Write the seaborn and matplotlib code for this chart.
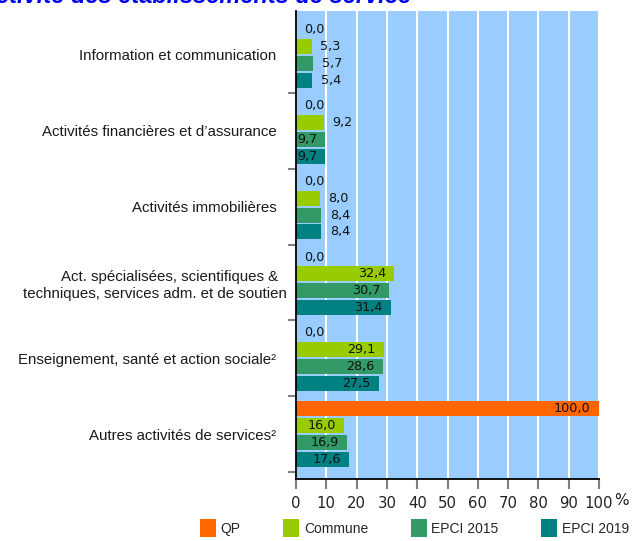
import numpy as np
import pandas as pd
import matplotlib
matplotlib.use("Agg")
import matplotlib.pyplot as plt
import seaborn as sns
from matplotlib.transforms import ScaledTranslation
from matplotlib.ticker import FixedLocator

categories = [
    "Information et communication",
    "Activités financières et d’assurance",
    "Activités immobilières",
    "Act. spécialisées, scientifiques &  \ntechniques, services adm. et de soutien",
    "Enseignement, santé et action sociale²",
    "Autres activités de services²",
]
series = ["QP", "Commune", "EPCI 2015", "EPCI 2019"]
qp = [0.0, 0.0, 0.0, 0.0, 0.0, 100.0]
commune = [5.3, 9.2, 8.0, 32.4, 29.1, 16.0]
epci2015 = [5.7, 9.7, 8.4, 30.7, 28.6, 16.9]
epci2019 = [5.4, 9.7, 8.4, 31.4, 27.5, 17.6]
xticks = [0, 10, 20, 30, 40, 50, 60, 70, 80, 90, 100]
colors = ["#FF6600", "#99CC00", "#339966", "#008080"]
title = "Activité des établissements de service"

values = [qp, commune, epci2015, epci2019]
rows = []
for s, vals in zip(series, values):
    for c, v in zip(categories, vals):
        rows.append({"cat": c, "series": s, "value": v})
df = pd.DataFrame(rows)

sns.set_style("white")
plt.rcParams["font.family"] = ["Liberation Sans", "DejaVu Sans"]

W, H = 643, 541
fig = plt.figure(figsize=(W / 100, H / 100), dpi=100)
ax = fig.add_axes([296 / W, 1 - 479 / H, 303 / W, 468 / H])
ax.set_facecolor("#99CCFF")

sns.barplot(data=df, y="cat", x="value", hue="series", order=categories,
            hue_order=series, palette=dict(zip(series, colors)), orient="h",
            width=0.89, gap=0.11, errorbar=None, ax=ax, linewidth=0,
            saturation=1, zorder=3)

ax.set_xlim(0, 100)
ax.set_ylim(5.592, -0.579)
ax.set_xlabel("")
ax.set_ylabel("")

# grid
ax.set_xticks(xticks)
ax.set_xticklabels([str(t) for t in xticks], fontfamily="DejaVu Sans",
                   fontsize=10.7, color="#222222")
ax.xaxis.grid(True, color="white", linewidth=1.5, zorder=1)
ax.set_axisbelow(True)
ax.tick_params(axis="x", length=7.5, width=1.5, color="#808080", pad=5,
               direction="out", bottom=True)

# y ticks
ax.tick_params(axis="y", which="major", length=0, pad=14, labelsize=10.8,
               labelcolor="#1a1a1a", left=True)
ax.yaxis.set_minor_locator(FixedLocator([i + 0.5 for i in range(len(categories))]))
ax.tick_params(axis="y", which="minor", length=6, width=1.5, color="#808080",
               left=True, direction="out")
for lbl in ax.get_yticklabels():
    lbl.set_multialignment("right")
    lbl.set_linespacing(1.25)
lbl = ax.get_yticklabels()[3]
lbl.set_transform(lbl.get_transform() + ScaledTranslation(10 / 100, 0, fig.dpi_scale_trans))

for sp in ["top", "right"]:
    ax.spines[sp].set_visible(False)
ax.spines["left"].set_color("black")
ax.spines["left"].set_linewidth(1.3)
ax.spines["bottom"].set_color("black")
ax.spines["bottom"].set_linewidth(1.3)
ax.spines["left"].set_zorder(5)

# value labels
for cont, vals in zip(ax.containers, values):
    for patch, v in zip(cont.patches, vals):
        y = patch.get_y() + patch.get_height() / 2
        txt = f"{v:.1f}".replace(".", ",")
        if v >= 9.5:
            ax.annotate(txt, (v, y), xytext=(-6, 0), textcoords="offset points",
                        ha="right", va="center", fontsize=9.2, fontfamily="DejaVu Sans",
                        color="#111111", zorder=6)
        else:
            ax.annotate(txt, (v, y), xytext=(6, 0), textcoords="offset points",
                        ha="left", va="center", fontsize=9.2, fontfamily="DejaVu Sans",
                        color="#111111", zorder=6)

ax.text(1 + 15 / 303, -0.047, "%", transform=ax.transAxes, fontsize=11,
        fontfamily="DejaVu Sans", color="#222222", ha="left", va="center")

# legend
handles, labels = ax.get_legend_handles_labels()
if ax.get_legend() is not None:
    ax.get_legend().remove()
fig.legend(handles, labels, loc="center left", bbox_to_anchor=(200 / W, 1 - 528 / H),
           ncol=4, frameon=False, fontsize=10, handlelength=1.15, handleheight=1.6,
           handletextpad=0.35, columnspacing=3.05, borderpad=0, borderaxespad=0)

fig.text(412 / W, 1 - 3 / H, title, ha="right", va="baseline", fontsize=17,
         fontweight="bold", fontstyle="italic", color="#0000EE")

fig.savefig("out.png", dpi=100)
